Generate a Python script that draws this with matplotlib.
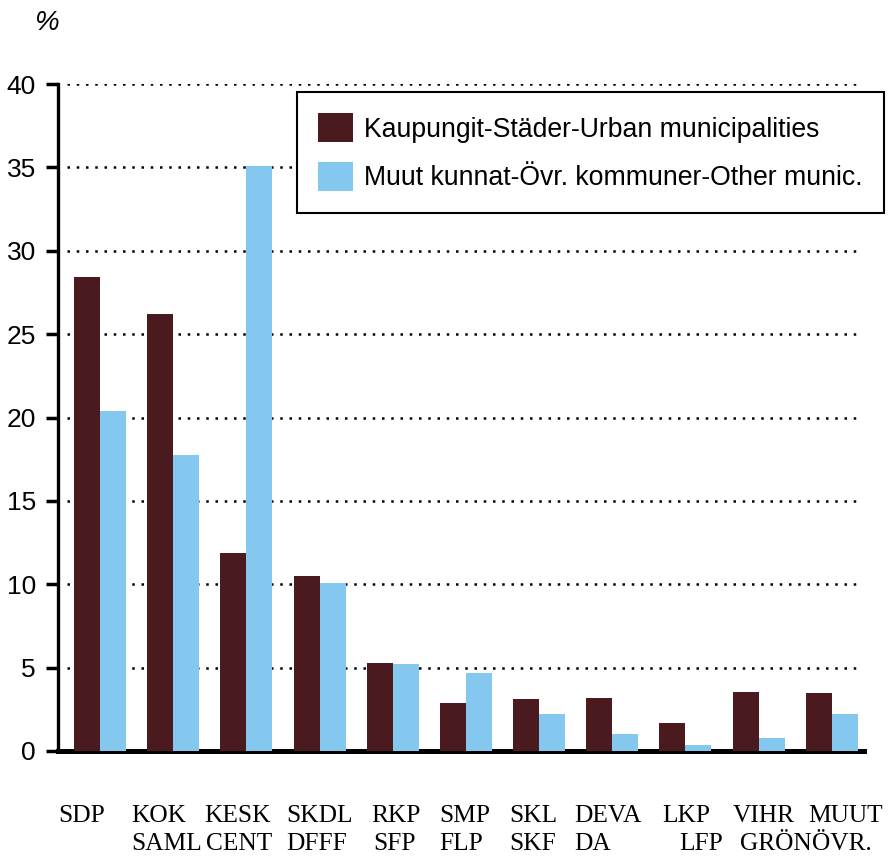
import numpy as np
import matplotlib
matplotlib.use('Agg')
import matplotlib.pyplot as plt
import matplotlib.transforms as mtransforms

# party labels: Finnish abbreviation on top, Swedish below
parties_fi = ["SDP", "KOK", "KESK", "SKDL", "RKP", "SMP", "SKL", "DEVA", "LKP", "VIHR", "MUUT"]
parties_sv = ["", "SAML", "CENT", "DFFF", "SFP", "FLP", "SKF", "DA", "LFP", "GRÖN", "ÖVR."]
urban = [28.4, 26.2, 11.9, 10.5, 5.3, 2.9, 3.1, 3.2, 1.7, 3.55, 3.5]
other = [20.4, 17.75, 35.1, 10.1, 5.2, 4.7, 2.2, 1.0, 0.35, 0.8, 2.2]

urban_label = "Kaupungit-Städer-Urban municipalities"
other_label = "Muut kunnat-Övr. kommuner-Other munic."
dark = "#4a1a1e"
light = "#84c8f0"

# small horizontal nudges (px) for the hand-typed labels
nudge_fi = [-1, -3, -5, 2, 12, 5, 0, -10, 3, -2, -2]
nudge_sv = [0, -3, -3, 2, 14, 5, 0, -10, 20, 5, 2]

W, H = 890, 860
fig = plt.figure(figsize=(W/100, H/100), dpi=100)
ax = fig.add_axes([58/W, 1-751/H, 806/W, (751-84)/H])

x = np.arange(len(parties_fi))
w = 0.355
ax.bar(x - w/2, urban, w, color=dark, label=urban_label, zorder=3)
ax.bar(x + w/2, other, w, color=light, label=other_label, zorder=3)

ax.set_xlim(-0.574, 10.44)
ax.set_ylim(0, 40)
ax.set_yticks(range(0, 41, 5))
ax.tick_params(axis='y', length=9, width=2.5, labelsize=19, pad=7)
for lab in ax.get_yticklabels():
    lab.set_fontfamily('Liberation Sans')
ax.set_xticks([])

# dotted horizontal grid
for v in range(5, 41, 5):
    ax.axhline(v, xmin=9/806, xmax=800/806, color='black', lw=1.8,
               ls=(0, (1, 2.7)), zorder=1)

# labels were typed under the chart, spaced a bit wider than the bars
trans = ax.get_xaxis_transform()
label_x = x * 1.026 - 0.56
for lx, top, bot, d1, d2 in zip(label_x, parties_fi, parties_sv, nudge_fi, nudge_sv):
    for txt, dx, base in [(top, d1, 822), (bot, d2, 850)]:
        off = mtransforms.ScaledTranslation(dx/100, 0, fig.dpi_scale_trans)
        ax.text(lx, (751 - base)/667, txt, transform=trans + off,
                fontfamily='Liberation Serif', fontsize=18.3,
                ha='left', va='baseline', clip_on=False)

for s in ['top', 'right']:
    ax.spines[s].set_visible(False)
ax.spines['left'].set_linewidth(2.4)
ax.spines['bottom'].set_linewidth(3.6)

fig.text(46/W, 1-23/H, "%", fontsize=20, style='italic',
         fontfamily='Liberation Sans', ha='center', va='center')

leg = ax.legend(loc='upper left', bbox_to_anchor=(297/W, 1-92/H),
                bbox_transform=fig.transFigure,
                prop={'family': 'Liberation Sans', 'size': 19.2},
                handlelength=1.3, handleheight=1.3, handletextpad=0.4,
                borderpad=0.8, labelspacing=0.72, borderaxespad=0,
                fancybox=False, framealpha=1, edgecolor='black')
leg.get_frame().set_linewidth(1.5)

fig.savefig("out.png", dpi=100)
